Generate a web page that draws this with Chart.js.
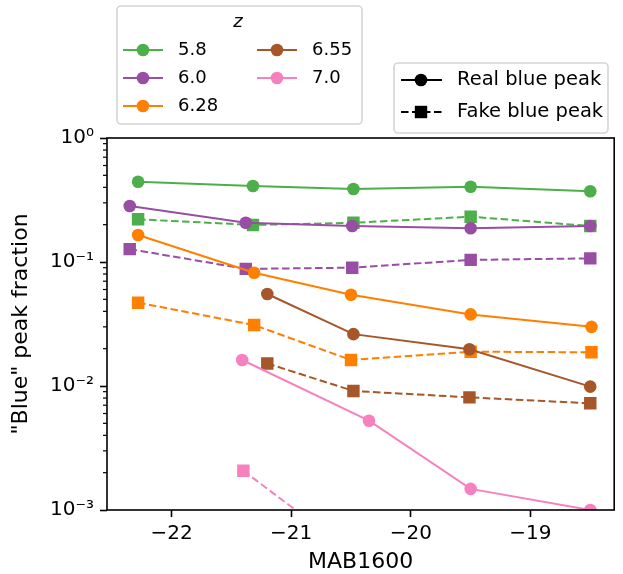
<!DOCTYPE html>
<html>
<head>
<meta charset="utf-8">
<script src="https://cdn.jsdelivr.net/npm/chart.js@4.4.1/dist/chart.umd.min.js"></script>
<style>
  html, body { margin: 0; padding: 0; background: #fff; }
</style>
</head>
<body>
<canvas id="chart" width="623" height="574"></canvas>
<script>
// redshift bins and their colours
const zLabels = ['5.8', '6.0', '6.28', '6.55', '7.0'];
const zColors = ['#4daf4a', '#984ea3', '#ff7f00', '#a65628', '#f781bf'];

// MAB1600 bin centres and fractions
const mag58 = [-22.28, -21.32, -20.48, -19.50, -18.50];
const real58 = [0.444, 0.410, 0.388, 0.405, 0.372];
const fake58 = [0.221, 0.199, 0.207, 0.232, 0.195];

const mag60 = [-22.35, -21.38, -20.49, -19.50, -18.50];
const real60 = [0.283, 0.207, 0.195, 0.187, 0.195];
const fake60 = [0.127, 0.088, 0.090, 0.104, 0.107];

const mag628 = [-22.28, -21.31, -20.50, -19.50, -18.49];
const real628 = [0.165, 0.082, 0.0545, 0.0378, 0.030];
const fake628 = [0.047, 0.031, 0.0162, 0.0189, 0.0187];

const mag655 = [-21.20, -20.48, -19.51, -18.50];
const real655 = [0.0552, 0.0262, 0.0198, 0.00988];
const fake655 = [0.0152, 0.00912, 0.0081, 0.00725];

const mag70 = [-21.41, -20.35, -19.50, -18.50];
const real70 = [0.0162, 0.00525, 0.00148, 0.0010];
const magFake70 = [-21.40, -20.35];
const fake70 = [0.00207, 0.00036];

// axis ticks
const xTickValues = [-22, -21, -20, -19];
const xTickLabels = ['\u221222', '\u221221', '\u221220', '\u221219'];
const yTickValues = [0.001, 0.01, 0.1, 1];
const yTickLabels = ['10\u207B\u00B3', '10\u207B\u00B2', '10\u207B\u00B9', '10\u2070'];

const series = [
  { x: mag58, real: real58, fakeX: mag58, fake: fake58 },
  { x: mag60, real: real60, fakeX: mag60, fake: fake60 },
  { x: mag628, real: real628, fakeX: mag628, fake: fake628 },
  { x: mag655, real: real655, fakeX: mag655, fake: fake655 },
  { x: mag70, real: real70, fakeX: magFake70, fake: fake70 },
];

// minor log ticks 2..9 per decade
const yMinorValues = [];
yTickValues.slice(0, -1).forEach(d => { for (let m = 2; m <= 9; m++) yMinorValues.push(m * d); });

const FONT = '"DejaVu Sans", sans-serif';

const datasets = [];
series.forEach((s, i) => {
  const color = zColors[i];
  datasets.push({
    label: zLabels[i] + ' real',
    data: s.x.map((x, k) => ({ x, y: s.real[k] })),
    borderColor: color, backgroundColor: color,
    borderWidth: 2, pointStyle: 'circle', pointRadius: 6.3, pointBorderWidth: 0,
    tension: 0,
  });
  datasets.push({
    label: zLabels[i] + ' fake',
    data: s.fakeX.map((x, k) => ({ x, y: s.fake[k] })),
    borderColor: color, backgroundColor: color,
    borderWidth: 2, borderDash: [7.5, 3.5], pointStyle: 'rect', pointRadius: 8.8, pointBorderWidth: 0,
    tension: 0,
  });
});
// matplotlib order: later series on top
datasets.forEach((d, i) => { d.order = datasets.length - i; });

function drawBox(ctx, x0, y0, x1, y1) {
  const r = 4;
  ctx.beginPath();
  ctx.moveTo(x0 + r, y0);
  ctx.arcTo(x1, y0, x1, y1, r);
  ctx.arcTo(x1, y1, x0, y1, r);
  ctx.arcTo(x0, y1, x0, y0, r);
  ctx.arcTo(x0, y0, x1, y0, r);
  ctx.closePath();
  ctx.fillStyle = 'rgba(255,255,255,0.8)';
  ctx.fill();
  ctx.strokeStyle = '#d5d5d5';
  ctx.lineWidth = 1.6;
  ctx.stroke();
}

function drawMarker(ctx, style, x, y, color) {
  ctx.fillStyle = color;
  ctx.beginPath();
  if (style === 'circle') ctx.arc(x, y, 6.3, 0, Math.PI * 2);
  else ctx.rect(x - 6.2, y - 6.2, 12.4, 12.4);
  ctx.fill();
}

function drawLegendLine(ctx, x0, x1, y, color, dash) {
  ctx.strokeStyle = color;
  ctx.lineWidth = 2;
  ctx.setLineDash(dash);
  ctx.beginPath();
  ctx.moveTo(x0, y);
  ctx.lineTo(x1, y);
  ctx.stroke();
  ctx.setLineDash([]);
}

const framePlugin = {
  id: 'frame',
  afterDraw(chart) {
    const { ctx, chartArea: a } = chart;
    const yScale = chart.scales.y;
    ctx.save();
    // axes box
    ctx.strokeStyle = '#000';
    ctx.lineWidth = 1.6;
    ctx.strokeRect(a.left, a.top, a.right - a.left, a.bottom - a.top);
    // minor ticks
    ctx.lineWidth = 1.2;
    yMinorValues.forEach(v => {
      const py = yScale.getPixelForValue(v);
      ctx.beginPath();
      ctx.moveTo(a.left - 4, py);
      ctx.lineTo(a.left, py);
      ctx.stroke();
    });

    // redshift legend
    drawBox(ctx, 117, 6, 362, 124);
    ctx.fillStyle = '#000';
    ctx.textBaseline = 'middle';
    ctx.textAlign = 'center';
    ctx.font = 'italic 18px ' + FONT;
    ctx.fillText('z', 238, 22);
    ctx.textAlign = 'left';
    ctx.font = '18px ' + FONT;
    const rows = [50, 78, 106];
    zLabels.forEach((lab, i) => {
      const col = i < 3 ? 0 : 1;
      const y = rows[col === 0 ? i : i - 3];
      const lx = col === 0 ? 123 : 257;
      drawLegendLine(ctx, lx, lx + 40, y, zColors[i], []);
      drawMarker(ctx, 'circle', lx + 20, y, zColors[i]);
      ctx.fillStyle = '#000';
      ctx.fillText(lab, lx + 55, y);
    });

    // real / fake legend
    drawBox(ctx, 394, 63, 608, 133);
    ctx.font = '19.5px ' + FONT;
    drawLegendLine(ctx, 401, 442, 80, '#000', []);
    drawMarker(ctx, 'circle', 421, 80, '#000');
    drawLegendLine(ctx, 401, 442, 112, '#000', [7.5, 3.5]);
    drawMarker(ctx, 'rect', 421, 112, '#000');
    ctx.fillStyle = '#000';
    ctx.fillText('Real blue peak', 457, 80);
    ctx.fillText('Fake blue peak', 457, 112);
    ctx.restore();
  }
};

new Chart(document.getElementById('chart').getContext('2d'), {
  type: 'line',
  data: { datasets },
  options: {
    responsive: false,
    animation: false,
    devicePixelRatio: 1,
    events: [],
    layout: { padding: { top: 138, right: 6, bottom: 0, left: 0 } },
    plugins: { legend: { display: false }, tooltip: { enabled: false } },
    scales: {
      x: {
        type: 'linear',
        min: -22.54,
        max: -18.30,
        afterFit: s => { s.height = 64; s.paddingLeft = 0; s.paddingRight = 0; },
        afterBuildTicks: s => { s.ticks = xTickValues.map(v => ({ value: v })); },
        grid: { drawOnChartArea: false, tickLength: 7, tickWidth: 1.6, tickColor: '#000' },
        border: { display: false },
        ticks: {
          autoSkip: false, maxRotation: 0, padding: 5, color: '#000',
          font: { family: FONT, size: 20 },
          callback: v => xTickLabels[xTickValues.indexOf(v)] ?? '',
        },
        title: {
          display: true, text: 'MAB1600', color: '#000',
          font: { family: FONT, size: 22 }, padding: { top: 0, bottom: -1 },
        },
      },
      y: {
        type: 'logarithmic',
        min: 0.001,
        max: 1,
        afterFit: s => { s.width = 107; s.paddingTop = 0; s.paddingBottom = 0; },
        afterBuildTicks: s => { s.ticks = yTickValues.map(v => ({ value: v })); },
        grid: { drawOnChartArea: false, tickLength: 7, tickWidth: 1.6, tickColor: '#000' },
        border: { display: false },
        ticks: {
          autoSkip: false, padding: 6, color: '#000',
          font: { family: FONT, size: 20 },
          callback: v => yTickLabels[yTickValues.indexOf(v)] ?? '',
        },
        title: {
          display: true, text: '"Blue" peak fraction', color: '#000',
          font: { family: FONT, size: 22 }, padding: { top: 8, bottom: 0 },
        },
      },
    },
  },
  plugins: [framePlugin],
});
</script>
</body>
</html>
